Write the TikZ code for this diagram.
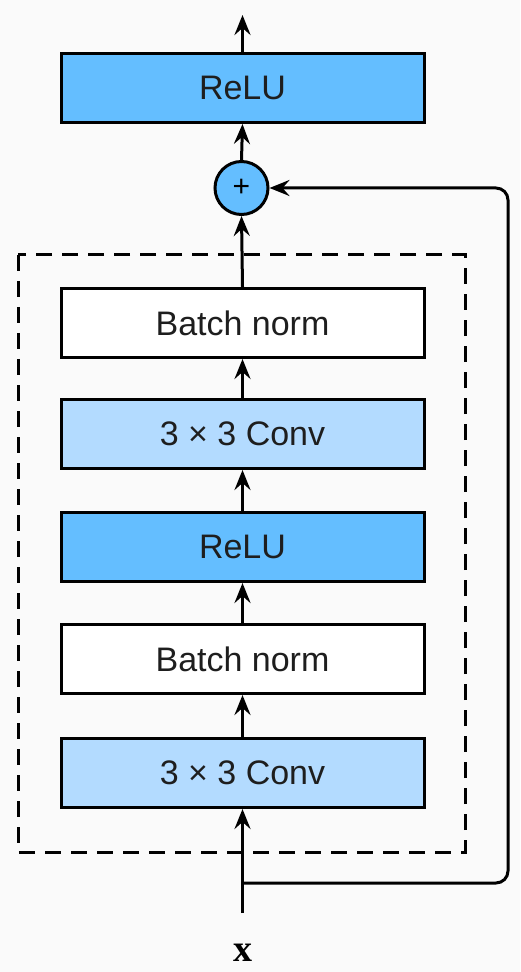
\documentclass[tikz,border=0pt]{standalone}
\usepackage{fontspec}
\setmainfont{Liberation Sans}
\newfontfamily\xserif{Liberation Serif}
\usetikzlibrary{arrows.meta}
\definecolor{bg}{HTML}{FAFAFA}
\definecolor{reluc}{HTML}{64BEFF}
\definecolor{convc}{HTML}{B3DBFF}
\definecolor{txt}{HTML}{1E1E1E}
\begin{document}
\begin{tikzpicture}[x=0.5pt,y=-0.5pt,
  layer/.style={draw=black,line width=1.5pt,minimum width=181.5pt,minimum height=34.5pt,inner sep=0pt,
    font=\fontsize{17}{19}\selectfont,text=txt},
  relubox/.style={layer,fill=reluc},
  convbox/.style={layer,fill=convc},
  bnbox/.style={layer,fill=white},
  addnode/.style={circle,draw=black,line width=1.5pt,fill=reluc,minimum size=26.5pt,inner sep=0pt,
    font=\fontsize{15}{15}\selectfont},
  conn/.style={line width=1.5pt,-{Stealth[length=10pt,width=8pt,inset=3.5pt]}},
  plain/.style={line width=1.5pt,rounded corners=6pt}]
\fill[bg] (0,0) rectangle (520,972);
\useasboundingbox (0,0) rectangle (520,972);
\draw[line width=1.5pt,dash pattern=on 8pt off 5pt] (18,255) rectangle (465,852);
\node[relubox] (relu2) at (242.5,88) {ReLU};
\node[addnode] (add) at (241.5,188) {+};
\node[bnbox] (bn2) at (242.5,323) {Batch norm};
\node[convbox] (conv2) at (242.5,434) {3 × 3 Conv};
\node[relubox] (relu1) at (242.5,547) {ReLU};
\node[bnbox] (bn1) at (242.5,659) {Batch norm};
\node[convbox] (conv1) at (242.5,773) {3 × 3 Conv};
\node[font=\fontsize{19}{20}\selectfont\xserif\bfseries] (x) at (243,953) {x};
\coordinate (xin) at (242.5,913);
\coordinate (br) at (242.5,883);
\coordinate (out) at (242.5,15);
\draw[conn] (xin) -- (conv1.south);
\draw[conn] (conv1.north) -- (bn1.south);
\draw[conn] (bn1.north) -- (relu1.south);
\draw[conn] (relu1.north) -- (conv2.south);
\draw[conn] (conv2.north) -- (bn2.south);
\draw[conn] (bn2.north) -- (add.south);
\draw[conn] (add.north) -- (relu2.south);
\draw[conn] (relu2.north) -- (out);
\draw[plain,-{Stealth[length=10pt,width=8pt,inset=3.5pt]}] (br) -- (508,883) -- (508,188) -- (add.east);
\end{tikzpicture}
\end{document}
